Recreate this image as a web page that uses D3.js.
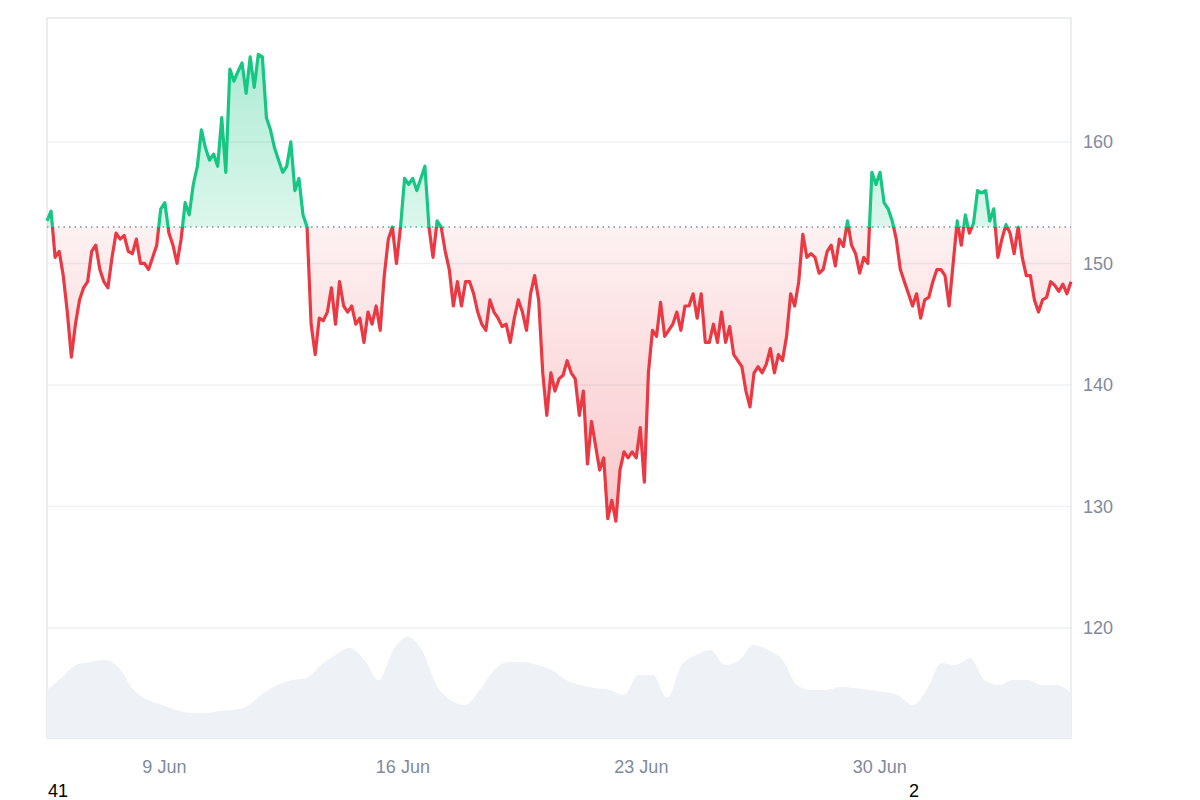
<!DOCTYPE html>
<html><head><meta charset="utf-8">
<script src="https://cdn.jsdelivr.net/npm/d3@7"></script>
<style>body{margin:0;background:#fff;font-family:Arial,"Liberation Sans",sans-serif}</style>
</head><body><svg id="c" width="1200" height="800"></svg>
<script>
const startDate = new Date(2025,5,5,13,40);
const endDate = new Date(2025,6,5,15,0);
const baseline = 153;
const prices = [153.5,154.3,150.5,151,149,146,142.3,145,147,148,148.5,151,151.5,149.5,148.5,148,150.5,152.5,152,152.3,151,150.8,152,150,150,149.5,150.5,151.5,154.5,155,152.5,151.5,150,152,155,154,156.5,158,161,159.5,158.5,159,158,162,157.5,166,165,165.8,166.5,164,167,164.5,167.2,167,162,161,159.5,158.5,157.5,158,160,156,157,154,153,145,142.5,145.5,145.3,146,148,145,148.5,146.5,146,146.5,145,145.5,143.5,146,145,146.5,144.5,149,152,153,150,153,157,156.5,157,156,157,158,153,150.5,153.5,153,151,149.5,146.5,148.5,146.5,148.5,148.5,147.5,146,145,144.5,147,146,145.5,144.8,145,143.5,145.5,147,146,144.5,147.5,149,147,141,137.5,141,139.5,140.5,140.8,142,141,140.5,137.5,139.5,133.5,137,135,133,134,129,130.5,128.8,133,134.5,134,134.5,134,136.5,132,141,144.5,144,146.8,144,144.5,145,146,144.5,146.5,146.5,147.5,145.5,147.5,143.5,143.5,145,143.5,146,143.5,144.8,142.5,142,141.5,139.5,138.2,141,141.5,141,141.7,143,141,142.5,142,144,147.5,146.5,148.5,152.4,150.5,150.8,150.5,149.2,149.5,151,151.5,149.8,152,151.4,153.5,151.5,150.8,149.2,150.5,150,157.5,156.5,157.5,155,154.5,153.5,152,149.5,148.5,147.5,146.5,147.5,145.5,147,147.2,148.5,149.5,149.5,149,146.5,150,153.5,151.5,154,152.5,153.3,156,155.8,156,153.5,154.5,150.5,152,153.2,152.5,150.8,153,150.5,149,149,147,146,147,147.2,148.5,148.2,147.7,148.3,147.5,148.5];
const volumes = [48,60,73,76,78,70,48,38,33,28,25,25,27,28,33,45,53,58,60,73,83,90,78,58,88,101,88,53,38,33,48,68,76,76,73,68,58,53,50,48,43,63,63,40,73,83,88,73,78,93,88,78,53,48,48,51,50,48,46,43,33,48,75,73,80,58,53,58,58,53,53,45];
const yTicks = [120,130,140,150,160];
const xTickLabels = ["9 Jun","16 Jun","23 Jun","30 Jun"];
const xTickDates = [new Date(2025,5,9),new Date(2025,5,16),new Date(2025,5,23),new Date(2025,5,30)];
const footLabels = ["41","2"];

const svg = d3.select("#c");
const L=47,R=1071,T=18,B=738;
const x = d3.scaleTime().domain([startDate,endDate]).range([L,R]);
const y = d3.scaleLinear().domain([110.95,170.2]).range([B,T]);
const tOf = (i,n)=> new Date(+startDate + (endDate-startDate)*i/(n-1));
const pd = prices.map((v,i)=>({t:tOf(i,prices.length),v}));
const vd = volumes.map((v,i)=>({t:tOf(i,volumes.length),v}));
const vy = d3.scaleLinear().domain([0,120]).range([B,B-120]);

svg.append("g").selectAll("line").data(yTicks).join("line")
 .attr("x1",L).attr("x2",R).attr("y1",d=>y(d)).attr("y2",d=>y(d)).attr("stroke","#eef0f3").attr("stroke-width",1.5);
svg.append("rect").attr("x",L).attr("y",T).attr("width",R-L).attr("height",B-T).attr("fill","none").attr("stroke","#e6e8ec").attr("stroke-width",1.5);

svg.append("path").datum(vd).attr("fill","#eef1f5")
 .attr("d",d3.area().x(d=>x(d.t)).y0(B).y1(d=>vy(d.v)).curve(d3.curveMonotoneX));

const defs = svg.append("defs");
const yb = y(baseline);
defs.append("clipPath").attr("id","above").append("rect").attr("x",L-3).attr("y",T-10).attr("width",R-L+6).attr("height",yb-T+10);
defs.append("clipPath").attr("id","below").append("rect").attr("x",L-3).attr("y",yb).attr("width",R-L+6).attr("height",B-yb);
const g1 = defs.append("linearGradient").attr("id","gg").attr("x1",0).attr("x2",0).attr("gradientUnits","userSpaceOnUse").attr("y1",y(167)).attr("y2",yb);
g1.append("stop").attr("offset",0).attr("stop-color","#16c784").attr("stop-opacity",0.35);
g1.append("stop").attr("offset",1).attr("stop-color","#16c784").attr("stop-opacity",0.15);
const g2 = defs.append("linearGradient").attr("id","rg").attr("x1",0).attr("x2",0).attr("gradientUnits","userSpaceOnUse").attr("y1",yb).attr("y2",y(129));
g2.append("stop").attr("offset",0).attr("stop-color","#ea3943").attr("stop-opacity",0.07);
g2.append("stop").attr("offset",1).attr("stop-color","#ea3943").attr("stop-opacity",0.28);

const area = d3.area().x(d=>x(d.t)).y0(yb).y1(d=>y(d.v));
const line = d3.line().x(d=>x(d.t)).y(d=>y(d.v));
svg.append("path").datum(pd).attr("d",area).attr("fill","url(#gg)").attr("clip-path","url(#above)");
svg.append("path").datum(pd).attr("d",area).attr("fill","url(#rg)").attr("clip-path","url(#below)");

svg.append("line").attr("x1",L).attr("x2",R).attr("y1",yb).attr("y2",yb).attr("stroke","#8a8f98").attr("stroke-width",1.5).attr("stroke-dasharray","1.5,4");

svg.append("path").datum(pd).attr("d",line).attr("fill","none").attr("stroke","#16c784").attr("stroke-width",3.2).attr("stroke-linejoin","round").attr("clip-path","url(#above)");
svg.append("path").datum(pd).attr("d",line).attr("fill","none").attr("stroke","#ea3943").attr("stroke-width",3.2).attr("stroke-linejoin","round").attr("clip-path","url(#below)");

const ya = svg.append("g").attr("transform",`translate(${R},0)`).call(d3.axisRight(y).tickValues(yTicks).tickSize(0).tickPadding(12));
ya.select(".domain").remove();
ya.selectAll("text").attr("fill","#808a9d").attr("font-size",18).attr("font-family","Arial,'Liberation Sans',sans-serif");
const xa = svg.append("g").attr("transform",`translate(0,${B})`).call(d3.axisBottom(x).tickValues(xTickDates).tickFormat((d,i)=>xTickLabels[i]).tickSize(0).tickPadding(22));
xa.select(".domain").remove();
xa.selectAll("text").attr("fill","#808a9d").attr("font-size",18).attr("font-family","Arial,'Liberation Sans',sans-serif");

svg.append("text").attr("x",48).attr("y",797).attr("font-size",18).attr("fill","#000").text(footLabels[0]);
svg.append("text").attr("x",909).attr("y",797).attr("font-size",18).attr("fill","#000").text(footLabels[1]);
</script></body></html>
